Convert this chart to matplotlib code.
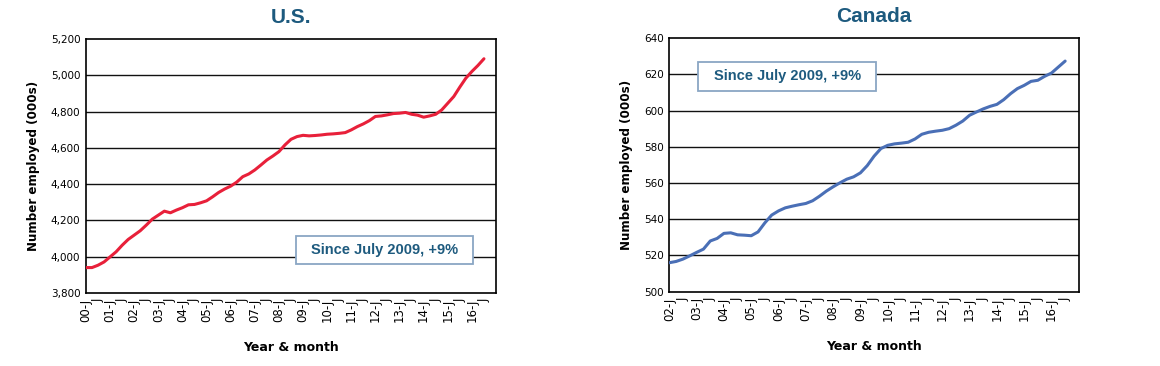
import matplotlib
matplotlib.use("Agg")
import matplotlib.pyplot as plt
import matplotlib.patches as mpatches
import numpy as np

# ---- data (quarterly readings, thousands employed) ----
us_start_year = 2000
us_values = [3940, 3940, 3953, 3971, 3999, 4027, 4063, 4095, 4119, 4143, 4174, 4207,
             4229, 4251, 4242, 4257, 4270, 4286, 4288, 4297, 4308, 4330, 4354, 4373,
             4389, 4411, 4441, 4456, 4478, 4505, 4533, 4555, 4579, 4616, 4647, 4662,
             4669, 4666, 4668, 4671, 4675, 4677, 4680, 4684, 4699, 4717, 4732, 4750,
             4773, 4776, 4782, 4789, 4791, 4795, 4785, 4780, 4769, 4776, 4785, 4809,
             4846, 4883, 4935, 4984, 5021, 5054, 5091]

ca_start_year = 2002
ca_values = [516.0, 516.7, 518.0, 519.8, 521.7, 523.5, 528.0, 529.4, 532.2, 532.5,
             531.4, 531.2, 530.9, 533.0, 538.0, 542.3, 544.6, 546.3, 547.2, 548.0,
             548.7, 550.2, 552.7, 555.5, 557.9, 560.1, 562.1, 563.4, 565.6, 569.6,
             574.8, 579.0, 580.8, 581.6, 582.0, 582.5, 584.3, 586.9, 588.0, 588.6,
             589.1, 590.0, 591.9, 594.2, 597.4, 599.2, 600.9, 602.3, 603.4, 606.0,
             609.3, 612.1, 613.9, 616.1, 616.7, 618.9, 620.7, 624.0, 627.3]

us_yticks = [3800, 4000, 4200, 4400, 4600, 4800, 5000, 5200]
ca_yticks = [500, 520, 540, 560, 580, 600, 620, 640]

annotation = "Since July 2009, +9%"

title_color = "#1d5a7e"
box_edge = "#8aa6c4"

fig = plt.figure(figsize=(11.6, 3.66), dpi=100)


def tick_labels(start_year, n):
    labels = []
    for i in range(n):
        if i % 2 == 0:
            labels.append(f"{(start_year + i // 2) % 100:02d}-J")
        else:
            labels.append("J")
    return labels


def draw(ax, start_year, values, yticks, color, title, n_years, box):
    x = np.arange(len(values)) * 3
    ax.plot(x, values, color=color, lw=2.2, solid_capstyle="round", zorder=3)
    ax.set_xlim(0, n_years * 12)
    ax.set_ylim(yticks[0], yticks[-1])
    ax.set_yticks(yticks)
    ax.set_yticklabels([f"{v:,}" for v in yticks], fontsize=7.5)
    for v in yticks[1:-1]:
        ax.axhline(v, color="#111111", lw=1.0, zorder=1)
    nt = n_years * 2
    ax.set_xticks(np.arange(nt) * 6)
    ax.set_xticklabels(tick_labels(start_year, nt), rotation=90, fontsize=8.5, va="top")
    ax.tick_params(axis="both", length=0, pad=4)
    for s in ax.spines.values():
        s.set_color("black")
        s.set_linewidth(1.2)
    ax.set_ylabel("Number employed (000s)", fontsize=8.6, fontweight="bold", labelpad=8)
    ax.set_xlabel("Year & month", fontsize=9, fontweight="bold", labelpad=14)
    ax.set_title(title, fontsize=15, fontweight="bold", color=title_color,
                 family="Liberation Sans", pad=11.5)
    x0, x1, y0, y1 = box
    ax.add_patch(mpatches.Rectangle((x0, y0), x1 - x0, y1 - y0, transform=ax.transAxes,
                                    fc="white", ec=box_edge, lw=1.3, zorder=5))
    ax.text((x0 + x1) / 2, (y0 + y1) / 2, annotation, transform=ax.transAxes,
            fontsize=10.5, fontweight="bold", color=title_color, family="Liberation Sans",
            ha="center", va="center", zorder=6)


ax1 = fig.add_axes([0.0741, 0.1995, 0.3535, 0.694])
draw(ax1, us_start_year, us_values, us_yticks, "#e8203a", "U.S.", 17,
     (0.512, 0.944, 0.114, 0.224))

ax2 = fig.add_axes([0.577, 0.203, 0.353, 0.693])
draw(ax2, ca_start_year, ca_values, ca_yticks, "#4a6fb6", "Canada", 15,
     (0.0707, 0.505, 0.791, 0.906))

fig.savefig("out.png", dpi=100, facecolor="white")
